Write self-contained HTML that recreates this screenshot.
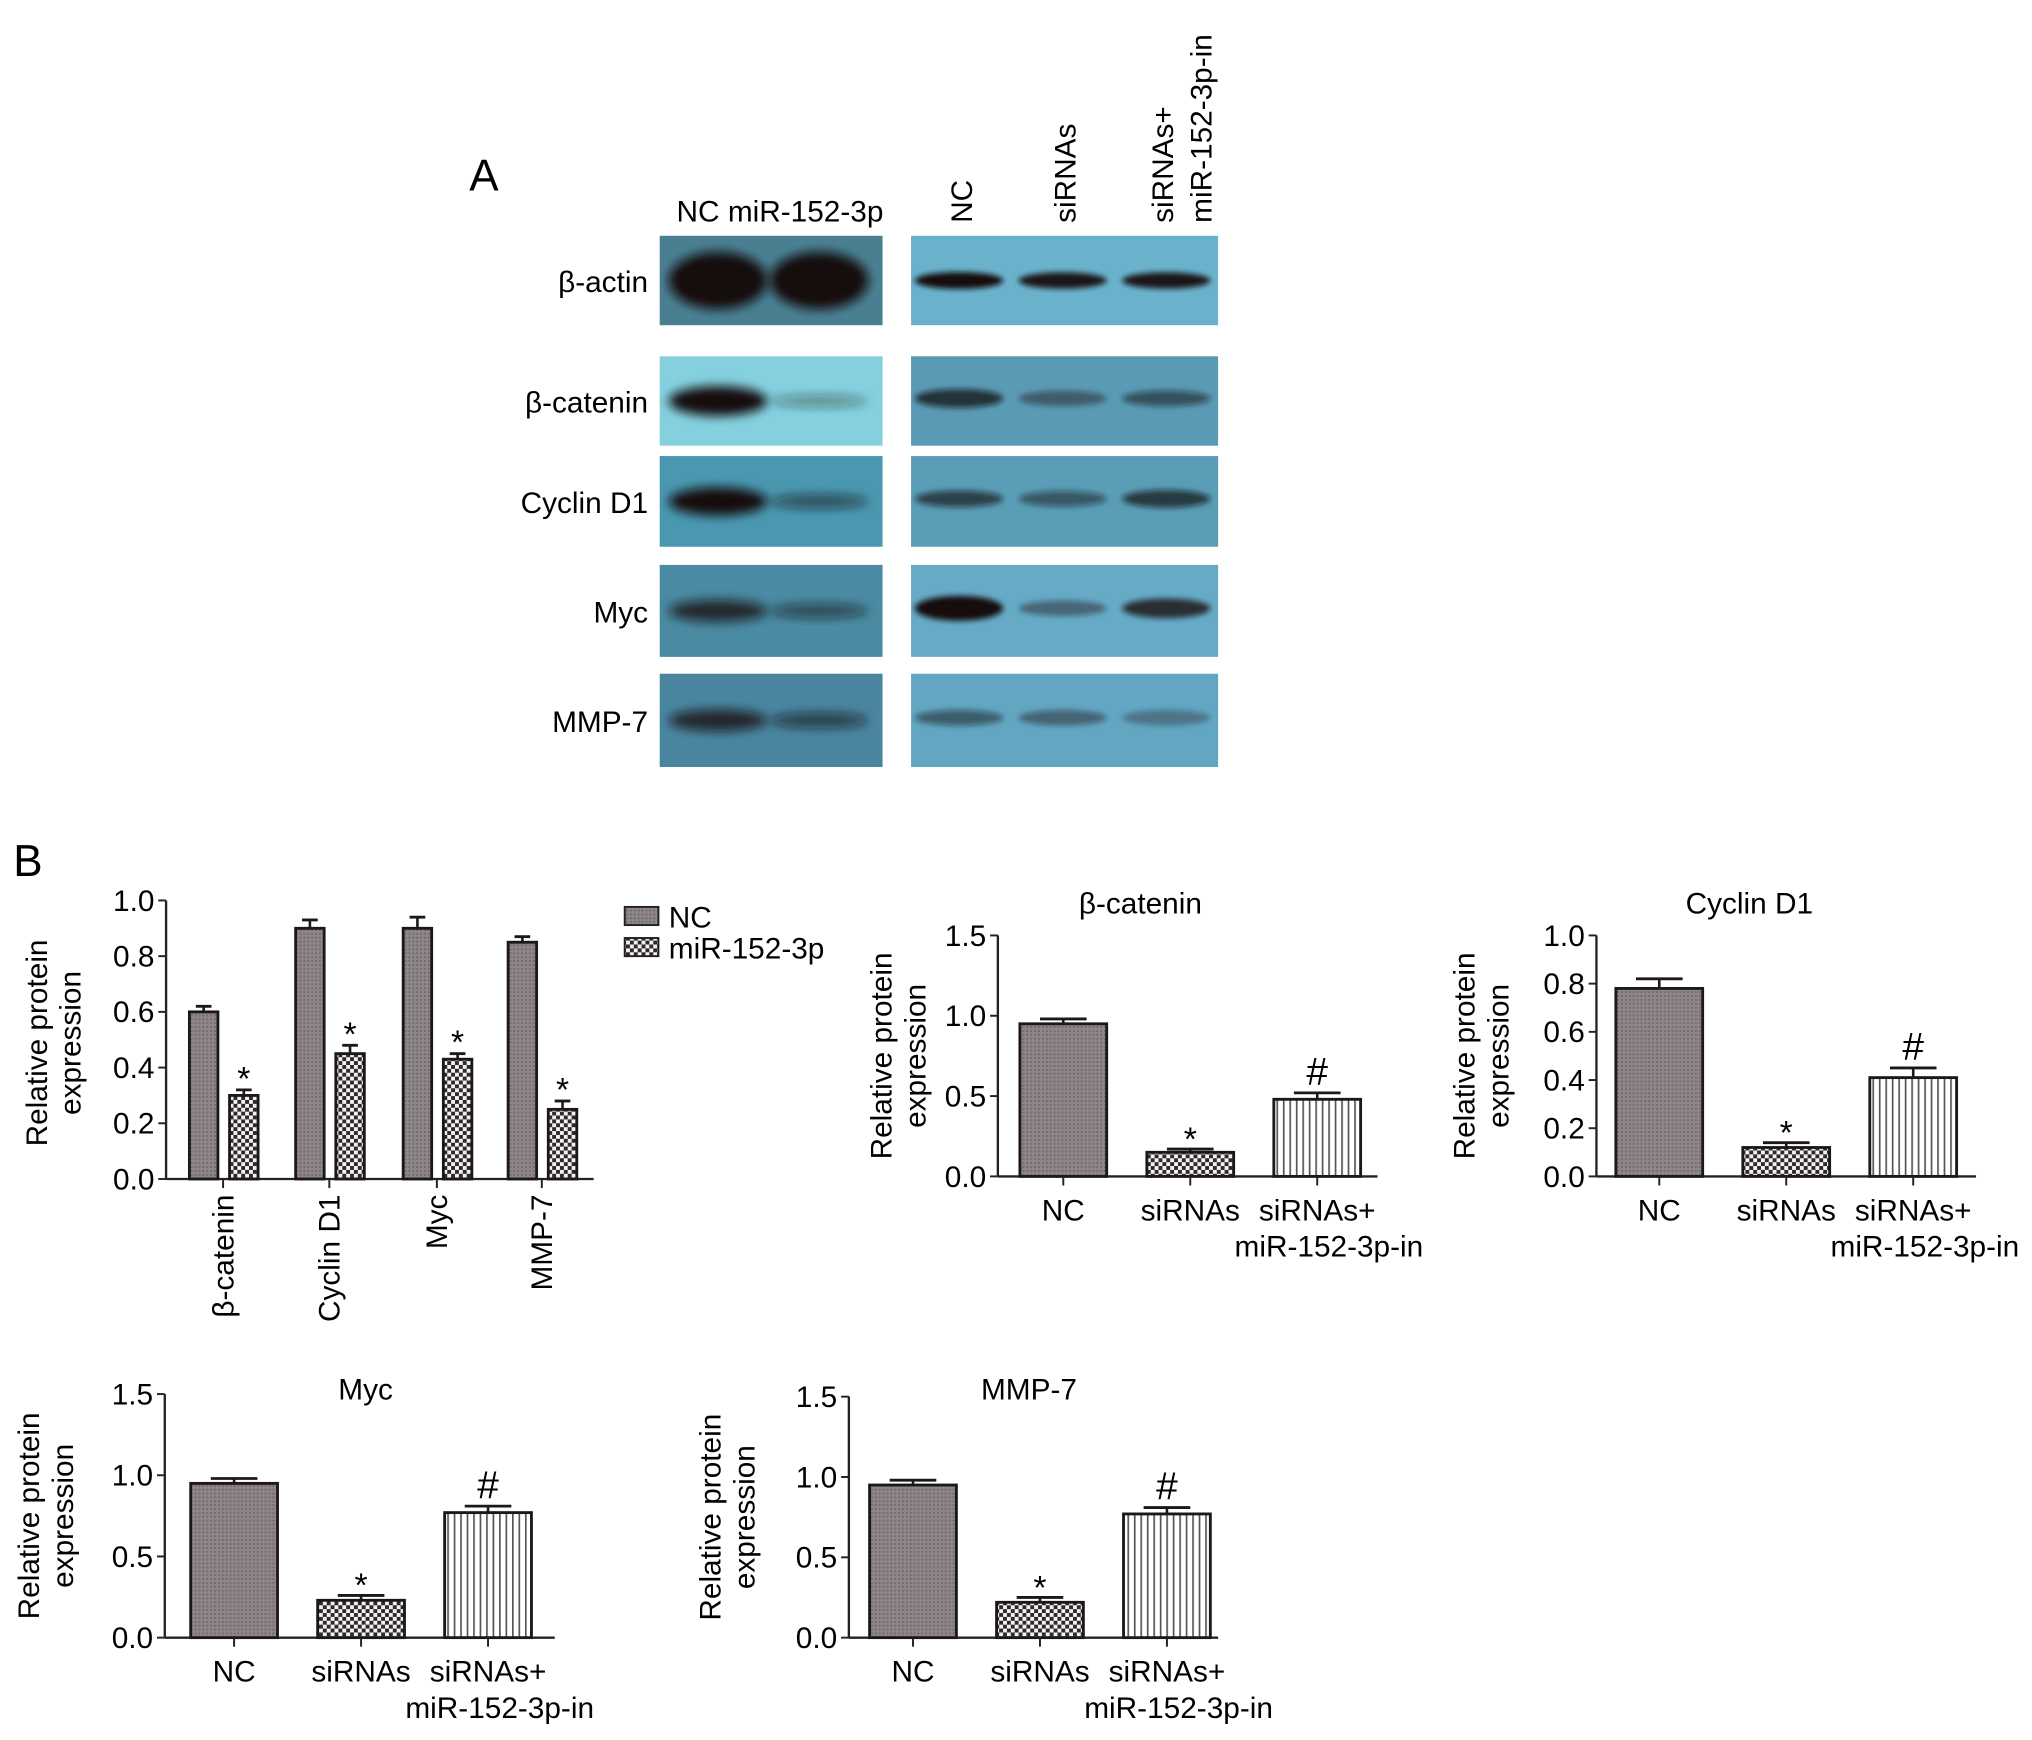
<!DOCTYPE html>
<html><head><meta charset="utf-8"><style>
html,body{margin:0;padding:0;background:#fff;}
svg{display:block;font-family:"Liberation Sans",Arial,sans-serif;}
</style></head><body>
<svg id="fig" width="2032" height="1740" viewBox="0 0 1568 1343" xmlns="http://www.w3.org/2000/svg">
<defs>
<pattern id="pNC" width="3" height="3" patternUnits="userSpaceOnUse"><rect width="3" height="3" fill="#8e8687"/><rect width="1.5" height="1.5" fill="#736a6c"/></pattern>
<pattern id="pSi" width="6" height="6" patternUnits="userSpaceOnUse"><rect width="6" height="6" fill="#f4f0f0"/><rect width="3" height="3" fill="#2e2a2a"/><rect x="3" y="3" width="3" height="3" fill="#2e2a2a"/></pattern>
<pattern id="pIn" width="5" height="5" patternUnits="userSpaceOnUse"><rect width="5" height="5" fill="#fff"/><rect width="1.3" height="5" fill="#555"/></pattern>
<filter id="blur" x="-20%" y="-50%" width="140%" height="200%"><feGaussianBlur stdDeviation="4"/></filter>
<filter id="blur2" x="-20%" y="-50%" width="140%" height="200%"><feGaussianBlur stdDeviation="2"/></filter>
</defs>
<g id="panelA">
<text x="362" y="147" font-size="34">A</text>
<text x="522" y="171" font-size="23">NC  miR-152-3p</text>
<text transform="translate(750,172) rotate(-90)" font-size="23">NC</text>
<text transform="translate(830,172) rotate(-90)" font-size="23">siRNAs</text>
<text transform="translate(905,172) rotate(-90)" font-size="23">siRNAs+</text>
<text transform="translate(935,172) rotate(-90)" font-size="23">miR-152-3p-in</text>
</g>
<g id="panelB">
<text x="10" y="676" font-size="34">B</text>
</g>
<script>
// ---------- Chart data ----------
var c1Categories = ["β-catenin","Cyclin D1","Myc","MMP-7"];
var c1NC = [0.60,0.90,0.90,0.85];
var c1NCErr = [0.02,0.03,0.04,0.02];
var c1Mir = [0.30,0.45,0.43,0.25];
var c1MirErr = [0.02,0.03,0.02,0.03];
var c1Ticks = ["0.0","0.2","0.4","0.6","0.8","1.0"];

var groupCats = ["NC","siRNAs","siRNAs+"];
var bcatVals = [0.95,0.15,0.48];
var bcatErr = [0.03,0.02,0.04];
var cycVals = [0.78,0.12,0.41];
var cycErr = [0.04,0.02,0.04];
var mycVals = [0.95,0.23,0.77];
var mycErr = [0.03,0.03,0.04];
var mmpVals = [0.95,0.22,0.77];
var mmpErr = [0.03,0.03,0.04];
var ticks15 = ["0.0","0.5","1.0","1.5"];
var ticks10 = ["0.0","0.2","0.4","0.6","0.8","1.0"];
var marks3 = ["","*","#"];

// ---------- Blot data (band intensities 0..1) ----------
var blotRows = ["β-actin","β-catenin","Cyclin D1","Myc","MMP-7"];
var blotLeft = [[1,1],[0.95,0.25],[0.9,0.45],[0.7,0.45],[0.7,0.5]];
var blotRight = [[0.9,0.85,0.85],[0.65,0.3,0.45],[0.55,0.4,0.6],[0.95,0.3,0.7],[0.4,0.3,0.2]];

var NS="http://www.w3.org/2000/svg";
var svg=document.getElementById('fig');
var gA=document.getElementById('panelA'), gB=document.getElementById('panelB');
function mk(tag,attrs,parent,txt){var e=document.createElementNS(NS,tag);for(var k in attrs)e.setAttribute(k,attrs[k]);if(txt!==undefined)e.textContent=txt;parent.appendChild(e);return e;}

// ---------- Blots ----------
var rowY=[182,275,352,436,520], rowH=[69,69,70,71,72];
var leftBg=["#4a7f92","#84d0df","#4a97b0","#4a8aa2","#4a85a0"];
var rightBg=["#6ab2cc","#5a9ab4","#5a9db6","#66aac6","#62a6c2"];
blotRows.forEach(function(name,i){
  var t=mk('text',{x:500,y:rowY[i]+rowH[i]/2+9,'font-size':23,'text-anchor':'end'},gA,name);
  
  
  var l=mk('rect',{x:509,y:rowY[i],width:172,height:rowH[i],fill:leftBg[i]},gA);
  
  
  var r=mk('rect',{x:703,y:rowY[i],width:237,height:rowH[i],fill:rightBg[i]},gA);
  
  
  var cy=rowY[i]+rowH[i]*0.5;
  blotLeft[i].forEach(function(v,j){
    var b=mk('ellipse',{cx:554+j*78,cy:cy,rx:38,ry:(i==0?22:12)*Math.max(v,0.4),fill:'#15100f','fill-opacity':Math.min(1,v+0.1),filter:'url(#blur)'},gA);
    
    
  });
  blotRight[i].forEach(function(v,j){
    var b=mk('ellipse',{cx:740+j*80,cy:cy-(i==0?0:2),rx:34,ry:(i==0?5:8)*Math.max(v,0.5)+2,fill:'#15100f','fill-opacity':Math.min(1,v+0.1),filter:'url(#blur2)'},gA);
    
    
  });
});

// ---------- Generic axis helpers ----------
function yAxis(g,x,y0,y1,xEnd,ticks,vmax){
  var ys=function(v){return y0-(v/vmax)*(y0-y1);};
  var a=mk('line',{x1:x,y1:y0,x2:x,y2:y1,stroke:'#222','stroke-width':1.8},g);
  
  var xa=mk('line',{x1:x,y1:y0,x2:xEnd,y2:y0,stroke:'#222','stroke-width':1.8},g);
  
  ticks.forEach(function(t){var v=parseFloat(t);var yy=ys(v);
    mk('line',{x1:x-6,y1:yy,x2:x,y2:yy,stroke:'#222','stroke-width':1.5},g);
    var tl=mk('text',{x:x-9,y:yy+8,'font-size':23,'text-anchor':'end'},g,t);
    });
  return ys;
}
function yTitle(g,x,cy){
  var t=mk('text',{transform:'translate('+x+','+cy+') rotate(-90)','font-size':23,'text-anchor':'middle'},g);
  
  mk('tspan',{x:0,y:0},t,'Relative protein');mk('tspan',{x:0,y:26},t,'expression');
}
function bar(g,x,w,v,err,ys,fill,name){
  var y0=ys(0),yt=ys(v),ye=ys(v+err);
  var r=mk('rect',{x:x,y:yt,width:w,height:y0-yt,fill:fill,stroke:'#1c1818','stroke-width':2.2},g);
  
  mk('line',{x1:x+w/2,y1:yt,x2:x+w/2,y2:ye,stroke:'#1c1818','stroke-width':2},g);
  var cw=Math.min(w*0.55,36);
  mk('line',{x1:x+w/2-cw/2,y1:ye,x2:x+w/2+cw/2,y2:ye,stroke:'#1c1818','stroke-width':2.2},g);
  return ye;
}

// ---------- Chart 1 ----------
(function(){
  var g=mk('g',{},gB);
  var ys=yAxis(g,128,910,695,458,c1Ticks,1.0);
  yTitle(g,36,805);
  var centers=[172,254,337,418];
  c1Categories.forEach(function(c,i){
    bar(g,centers[i]-26,22,c1NC[i],c1NCErr[i],ys,'url(#pNC)','bar-nc-'+i);
    var ye=bar(g,centers[i]+5,22,c1Mir[i],c1MirErr[i],ys,'url(#pSi)','bar-mir-'+i);
    var s=mk('text',{x:centers[i]+16,y:ye+12,'font-size':26,'text-anchor':'middle'},g,'*');
    
    s.setAttribute('transform','translate(0,-12)');
    mk('line',{x1:centers[i],y1:910,x2:centers[i],y2:917,stroke:'#222','stroke-width':1.5},g);
    var t=mk('text',{transform:'translate('+(centers[i]+8)+',922) rotate(-90)','font-size':23,'text-anchor':'end'},g,c);
    
  });
  var lg=mk('g',{},g);
  mk('rect',{x:482,y:700,width:26,height:14,fill:'url(#pNC)',stroke:'#222','stroke-width':1.5},lg);
  mk('text',{x:516,y:716,'font-size':23},lg,'NC');
  mk('rect',{x:482,y:724,width:26,height:14,fill:'url(#pSi)',stroke:'#222','stroke-width':1.5},lg);
  mk('text',{x:516,y:740,'font-size':23},lg,'miR-152-3p');
})();

// ---------- Three-bar charts ----------
function groupChart(name,title,ax,y0,y1,xEnd,ticks,vmax,vals,errs,titleX,titleY,yTX,barX){
  var g=mk('g',{},gB);
  var ys=yAxis(g,ax,y0,y1,xEnd,ticks,vmax);
  yTitle(g,yTX,(y0+y1)/2);
  var tt=mk('text',{x:titleX,y:titleY,'font-size':23,'text-anchor':'middle'},g,title);
  
  var fills=['url(#pNC)','url(#pSi)','url(#pIn)'];
  groupCats.forEach(function(c,i){
    var x=barX+i*98, w=67, cx=x+w/2;
    var ye=bar(g,x,w,vals[i],errs[i],ys,fills[i],'bar-'+c.replace('+','-plus').toLowerCase());
    if(marks3[i]){var s=mk('text',{x:cx,y:(i==1?ye+1:ye-6),'font-size':i==1?26:30,'text-anchor':'middle'},g,marks3[i]);
      }
    mk('line',{x1:cx,y1:y0,x2:cx,y2:y0+7,stroke:'#222','stroke-width':1.5},g);
    var t=mk('text',{x:cx,y:y0+34,'font-size':23,'text-anchor':'middle'},g,c);
    
    if(i==2){var t2=mk('text',{x:cx+9,y:y0+62,'font-size':23,'text-anchor':'middle'},g,'miR-152-3p-in');
      }
  });
}
groupChart('chart-beta-catenin','β-catenin',770,908,722,1063,ticks15,1.5,bcatVals,bcatErr,880,705,688,787);
groupChart('chart-cyclin-d1','Cyclin D1',1232,908,722,1525,ticks10,1.0,cycVals,cycErr,1350,705,1138,1247);
groupChart('chart-myc','Myc',127,1264,1076,428,ticks15,1.5,mycVals,mycErr,282,1080,30,147);
groupChart('chart-mmp7','MMP-7',655,1264,1078,940,ticks15,1.5,mmpVals,mmpErr,794,1080,556,671);
</script>
</svg>
</body></html>
